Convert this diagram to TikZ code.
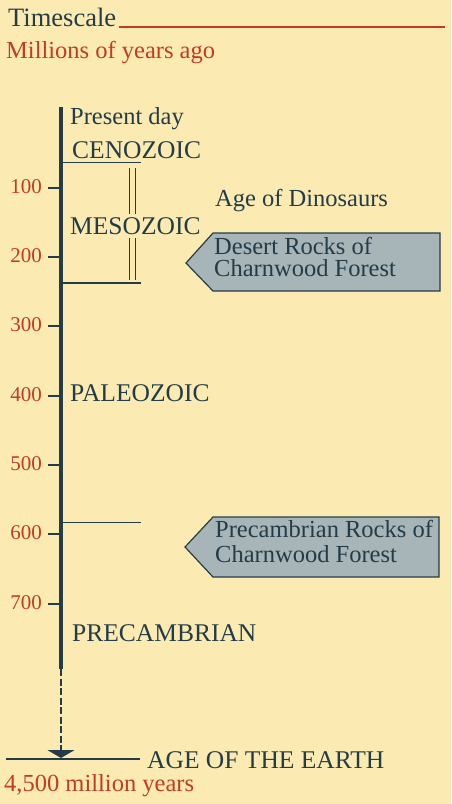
\documentclass[tikz,border=0pt]{standalone}
\usepackage{fontspec}
\setmainfont{Liberation Serif}
\usepackage{xcolor}
\usepackage{tikz}
\usetikzlibrary{arrows.meta}
\definecolor{paper}{RGB}{251,235,178}
\definecolor{slate}{RGB}{36,60,72}
\definecolor{tred}{RGB}{196,58,34}
\definecolor{rockgray}{RGB}{167,180,184}

\begin{document}
\begin{tikzpicture}[x=1pt,y=-1pt,
  txt/.style={anchor=base west,inner sep=0pt,text=slate,font=\fontsize{24.5}{28}\selectfont},
  era/.style={txt,font=\fontsize{25.5}{28}\selectfont},
  redtxt/.style={txt,text=tred},
  num/.style={anchor=east,inner sep=0pt,text=tred,font=\fontsize{21}{24}\selectfont},
  tickmark/.style={draw=slate,line width=2pt},
  divide/.style={draw=slate,line width=1.3pt},
  rocks/.style={draw=slate,fill=rockgray,line width=1.2pt,line join=miter},
  rocktxt/.style={anchor=north west,inner sep=0pt,align=left,text=slate,font=\fontsize{24.5}{22}\selectfont}]
 \fill[paper] (0,0) rectangle (451,804);
 \node[txt,font=\fontsize{26.5}{30}\selectfont] (title) at (8,26) {Timescale};
 \path (title.base east) ++(2.5,1.2) coordinate (rulestart);
 \coordinate (ruleend) at (445,0);
 \draw[tred,line width=2.5pt] (rulestart) -- (rulestart -| ruleend);
 \node[redtxt] (unit) at (6,58) {Millions of years ago};
 \coordinate (top) at (61,107);
 \coordinate (solidend) at (61,669);
 \coordinate (earth) at (61,758);
 \coordinate (baseL) at (6,759);
 \coordinate (baseR) at (140,759);
 \draw[slate,line width=3.2pt] (top) -- (solidend);
 \draw[slate,line width=1.7pt,dash pattern=on 7pt off 2.5pt,-{Triangle[width=27pt,length=8pt]}] (solidend) -- (earth);
 \draw[slate,line width=2.2pt] (baseL) -- (baseR);
 \foreach \v/\y in {100/188,200/257,300/326,400/396,500/465,600/534,700/604} {
   \draw[tickmark] (48,\y) -- (61,\y);
   \node[num] (n\v) at (42,\y-1.5) {\v};
 }
 \foreach \y in {162.5,283,522.5}
   \draw[divide] (61,\y) -- (141,\y);
 \draw[slate,line width=1pt,double=paper,double distance=4.5pt] (132.3,168) -- (132.3,280);
 \node[txt] (present) at (70,124) {Present day};
 \node[era] (ceno) at (72,158.3) {CENOZOIC};
 \node[txt] (dino) at (215,206) {Age of Dinosaurs};
 \node[era,fill=paper,inner sep=3pt] (meso) at (67,234.3) {MESOZOIC};
 \node[era] (paleo) at (70,401.7) {PALEOZOIC};
 \node[era] (precam) at (72,641) {PRECAMBRIAN};
 \node[era] (age) at (147,768.3) {AGE OF THE EARTH};
 \node[redtxt] (years) at (4,791.7) {4,500 million years};
 \draw[rocks] (186,263) -- (213,233) -- (440,233) -- (440,291) -- (213,291) -- cycle;
 \node[rocktxt] (desert) at (214,237.5) {Desert Rocks of\\Charnwood Forest};
 \draw[rocks] (185,547) -- (213,517) -- (439,517) -- (439,577) -- (213,577) -- cycle;
 \node[rocktxt] (precrock) at (215,520) {Precambrian Rocks of\\[3pt]Charnwood Forest};
\end{tikzpicture}
\end{document}
